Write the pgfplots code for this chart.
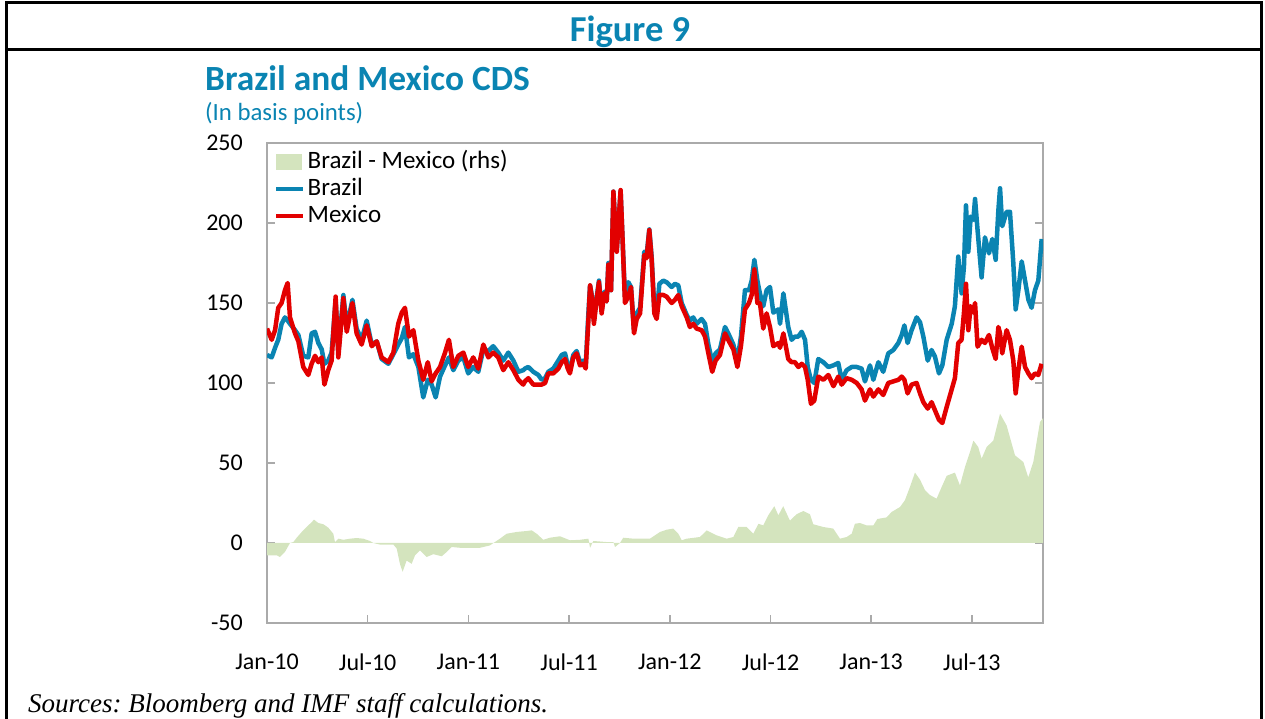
\documentclass[border=0pt]{standalone}
\usepackage{fontspec}
\setmainfont{Carlito}
\newfontfamily\srcfont{Liberation Serif}
\usepackage{pgfplots}
\usepackage{pgfplotstable}
\pgfplotsset{compat=1.18}

\definecolor{imfblue}{RGB}{10,132,178}
\definecolor{mxred}{RGB}{226,0,0}
\definecolor{diffgreen}{RGB}{212,228,190}
\definecolor{axgray}{RGB}{170,170,170}

% months since Jan-2010, Brazil and Mexico CDS (bp)
\pgfplotstableread{
m brazil mexico
0.00 117.5 134
0.28 116 127
0.48 122 133
0.67 127 147
0.87 137 150
1.07 141 158
1.23 139 162.5
1.37 137 141
1.67 133 131
1.87 130 126
2.16 117 110
2.46 116 105
2.66 131 112
2.86 132 117
3.06 125 113
3.26 121 116
3.42 112 99
3.65 114 108
3.85 119 114
4.09 152 154
4.25 119 116
4.55 155 153
4.75 135 132
5.09 152 150
5.34 134 131
5.64 127 124
5.94 139 136
6.24 124 123
6.54 126 126
6.83 115 116
7.23 112 113
7.53 118 119
7.82 124 137
8.03 128 144
8.22 135 147
8.46 116 129
8.72 118 133
9.02 110 114
9.31 91 102
9.58 102 113
9.81 99 101
10.05 91 106
10.31 104 110
10.61 111 119
10.84 116 127
11.10 108 110
11.40 114 117
11.70 116 119
11.99 106 110
12.29 110 116
12.59 107 109
12.89 121 124
13.19 120 116
13.48 123 119
13.78 119 116
14.08 114 108
14.38 119 113
14.68 114 108
14.98 107 102
15.27 108 99
15.37 109 101
15.57 110 103
15.87 107 99
16.17 105 99
16.37 102 99
16.57 103 100
16.76 107 106
17.06 109 106
17.36 114 109
17.56 117.5 113
17.76 118.5 115
17.92 111 109
18.05 108 106
18.25 117.5 116
18.45 120 118.5
18.65 113 111
18.85 114 112
18.99 111 109
19.15 143.5 139
19.25 161 161
19.35 155 154
19.48 139 137
19.64 153 152
19.78 164 163
19.94 145 143.5
20.10 157 156
20.24 151 151
20.34 175 174
20.50 158 158
20.64 219.6 219.6
20.84 183 182
21.07 220 220.6
21.19 189 189
21.33 154 150
21.53 163 154
21.69 160 160
21.87 133 131
22.03 143.5 140
22.23 147 143.5
22.48 182 180
22.62 180 178
22.78 196 195.6
22.92 179 177
23.08 146 143.5
23.22 143 140
23.38 162 155
23.62 164 155
23.81 163 154
24.11 160 150
24.31 162 152
24.51 161 155
24.71 150 148
25.01 142.5 141
25.20 139 135
25.40 141 137
25.60 137 134
25.90 140 133
26.10 137 129
26.30 124 118.5
26.53 113 107
26.73 118.5 114
26.99 121 117.5
27.29 135 131
27.53 130 126
27.79 124 121
28.03 114 110
28.24 129 123
28.48 158 146
28.72 158 150
28.88 164 155
29.04 177 171
29.22 164 150
29.37 156 150
29.57 148 134
29.77 158 143.5
29.97 160 135
30.17 144 123
30.47 146 125
30.57 137 122
30.77 156 131
31.06 135 115
31.26 127 113
31.46 129 113
31.66 129 110
31.86 132 112
32.06 127 110
32.22 110 102
32.41 102 87
32.61 100 89
32.85 115 104
33.15 113 102
33.45 110 105
33.75 111 98
34.04 112.5 104
34.24 102 99
34.54 108 103
34.84 110 102
35.14 110 100
35.43 109 96
35.63 101 89
35.93 111 96
36.13 102 91.5
36.43 113 96
36.72 107 92.5
37.02 118.5 100
37.32 120.6 101
37.62 125 102
37.82 130 104
37.98 136 102
38.17 125 93.5
38.41 133 99
38.71 141 100
38.91 138 93.5
39.11 129 88
39.37 114 84
39.60 120.6 88
39.80 116.5 83
40.04 106 77
40.24 111 75
40.50 127 85
40.80 137 96
40.99 148 103
41.19 179 125
41.39 156 127
41.53 173 144
41.65 211 162
41.79 182 133
41.93 204 148
42.09 202 144
42.19 215 150
42.34 195.6 122.7
42.58 166 127
42.78 191 125
43.02 181 130
43.22 190 121.7
43.42 177 115
43.58 208 135
43.68 221.7 131
43.81 198 118.5
44.07 207 133
44.27 207 127
44.47 175 114
44.61 146 93.5
44.77 158 108
44.97 176 122.7
45.17 164 110
45.37 152 106
45.56 147 103
45.76 158 106
45.96 164 105
46.16 190 112
}\cdsdata

% Brazil - Mexico spread (rhs, same scale)
\pgfplotstableread{
m diff
0.00 -7.7
0.58 -7.7
0.77 -8.75
1.07 -5.6
1.37 0
1.57 0.6
1.77 3.3
2.07 6.9
2.36 10
2.66 13
2.80 14.6
3.06 12.5
3.36 11.7
3.65 9.6
3.95 5.8
4.05 0.6
4.25 2.7
4.55 2
4.95 2.7
5.34 3.1
5.74 2.7
6.14 1.25
6.34 0
6.73 -1
7.53 -1
7.73 -3.5
7.92 -13
8.08 -18
8.32 -11
8.62 -13
8.82 -7.7
9.12 -4.6
9.51 -8.75
9.91 -7
10.41 -8.3
10.71 -5.6
11.00 -2.5
11.50 -3
12.10 -3.1
12.69 -3
13.29 -1.5
13.49 0
13.88 2.7
14.28 5.8
14.88 6.9
15.47 7.5
15.77 7.9
16.07 5.8
16.46 2
16.86 3.3
17.46 4.2
18.05 1.7
18.65 2
19.15 2.7
19.25 -3
19.44 1.25
20.24 0.6
20.64 0.6
20.74 -2.5
21.03 0
21.23 3.3
21.83 2.7
22.42 2.7
22.82 2.7
23.42 6.9
23.81 8.3
24.21 9
24.51 5.8
24.71 1.7
25.01 2.7
25.80 3.75
26.20 7.9
26.79 4.8
27.39 2.7
27.79 3.75
28.08 10
28.58 10
28.98 5.8
29.28 12
29.57 11
29.87 17.3
30.23 23
30.47 17.3
30.76 23
31.16 14
31.56 18
31.96 20
32.35 18
32.55 11.7
33.15 10
33.74 9
34.14 2.7
34.54 3.75
34.84 5.8
35.03 12
35.33 12.5
35.73 11
36.13 11
36.37 15
36.92 16
37.22 19.4
37.72 22.5
38.01 26.7
38.31 35
38.61 44
38.91 39.6
39.21 33
39.50 30
39.90 27.7
40.20 35
40.50 42
40.99 44
41.29 36
41.59 47.5
41.89 56.9
42.09 64
42.38 60
42.58 52.7
42.88 60
43.28 64
43.68 80.8
44.07 73.5
44.57 54.8
45.07 50.6
45.36 41
45.66 50.6
46.06 75.6
46.24 78
}\diffdata

\begin{document}
\frenchspacing
\begin{tikzpicture}
\path[use as bounding box] (0pt,0pt) rectangle (1265pt,719pt);

% frame
\draw[line width=3pt] (6pt,-5pt) -- (6pt,716pt) -- (1261pt,716pt) -- (1261pt,-5pt);
\draw[line width=3pt] (6pt,669pt) -- (1261pt,669pt);

\node[anchor=base, inner sep=0pt, text=imfblue, font=\fontsize{36.5}{36.5}\selectfont\bfseries]
  at (630pt,677pt) {Figure 9};
\node[anchor=base west, inner sep=0pt, text=imfblue, font=\fontsize{35.4}{35.4}\selectfont\bfseries]
  at (205pt,628pt) {Brazil and Mexico CDS};
\node[anchor=base west, inner sep=0pt, text=imfblue, font=\fontsize{24.8}{24.8}\selectfont]
  at (205pt,598pt) {(In basis points)};
\node[anchor=base west, inner sep=0pt, font=\fontsize{27}{27}\selectfont\srcfont\itshape]
  at (28pt,6pt) {Sources: Bloomberg and IMF staff calculations.};

\begin{axis}[
  at={(267pt,96pt)}, anchor=south west,
  width=776pt, height=480pt, scale only axis,
  xmin=0, xmax=46.24, ymin=-50, ymax=250,
  xtick={0,6,...,42},
  xticklabels={Jan-10,Jul-10,Jan-11,Jul-11,Jan-12,Jul-12,Jan-13,Jul-13},
  ytick={-50,0,...,250},
  yticklabels={-50,0,50,100,150,200,250},
  xtick pos=bottom, ytick pos=both, yticklabel pos=left,
  tick align=inside, major tick length=8pt,
  axis line style={axgray, line width=1.5pt},
  every tick/.style={axgray, line width=1.5pt},
  tick label style={font=\fontsize{24}{24}\selectfont},
  yticklabel style={anchor=east, inner sep=0pt, xshift=-24pt},
  xticklabel style={anchor=north, inner sep=0pt, yshift=-31pt},
  legend style={draw=none, fill=none, inner sep=0pt,
    at={(0.009,0.989)}, anchor=north west,
    font=\fontsize{25}{25}\selectfont,
    nodes={inner sep=2pt, text height=18pt, text depth=5pt},
    cells={anchor=west}},
  clip=true,
]
\addplot[fill=diffgreen, draw=none,
  legend image code/.code={\fill[diffgreen] (0pt,-8pt) rectangle (26pt,8pt);}]
  table[x=m, y=diff] {\diffdata} \closedcycle;
\addlegendentry{Brazil - Mexico (rhs)}
\addplot[imfblue, line width=4.5pt, line join=round,
  legend image code/.code={\draw[imfblue, line width=4.5pt] (0pt,0pt) -- (27pt,0pt);}]
  table[x=m, y=brazil] {\cdsdata};
\addlegendentry{Brazil}
\addplot[mxred, line width=4.5pt, line join=round,
  legend image code/.code={\draw[mxred, line width=4.5pt] (0pt,0pt) -- (27pt,0pt);}]
  table[x=m, y=mexico] {\cdsdata};
\addlegendentry{Mexico}
\end{axis}
\end{tikzpicture}
\end{document}
